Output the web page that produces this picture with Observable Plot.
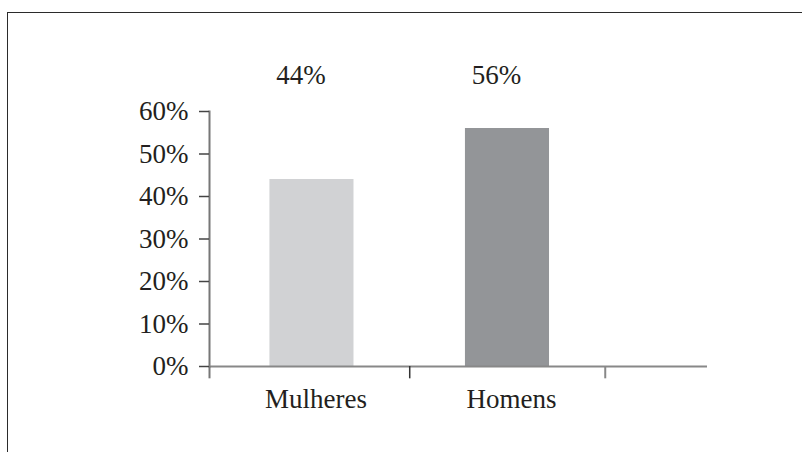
<!DOCTYPE html>
<html><head><meta charset="utf-8">
<script src="https://cdn.jsdelivr.net/npm/d3@7"></script>
<script src="https://cdn.jsdelivr.net/npm/@observablehq/plot@0.6"></script>
<style>
html,body{margin:0;padding:0;background:#fff;overflow:hidden;}
#wrap{position:relative;width:802px;height:452px;overflow:hidden;}
#box{position:absolute;left:7px;top:12px;width:1000px;height:1000px;border-left:1.5px solid #2b2b2b;border-top:1.5px solid #2b2b2b;pointer-events:none;}
</style></head><body>
<div id="wrap"><div id="box"></div></div>
<script>
const categories = ["Mulheres", "Homens"];
const values = [44, 56];
const valueLabels = ["44%", "56%"];
const yTicks = [0, 10, 20, 30, 40, 50, 60];

const data = categories.map((c, i) => ({category: c, index: i, value: values[i], label: valueLabels[i]}));
const xDomain = [-0.524, 2.023];
const halfBar = 0.215;
const tickDrop = 2.9;
const boundaries = [xDomain[0], ...categories.map((c, i) => i + 0.5)];
const ink = "#231f20";

const chart = Plot.plot({
  width: 802,
  height: 452,
  marginLeft: 209,
  marginRight: 95,
  marginTop: 111,
  marginBottom: 86,
  style: {fontFamily: "'Liberation Serif', 'Times New Roman', serif", fontSize: "27px", color: ink, background: "transparent"},
  x: {type: "linear", domain: xDomain, axis: null},
  y: {domain: [0, 60], axis: null},
  color: {domain: categories, range: ["#d1d2d4", "#939598"]},
  marks: [
    Plot.rectY(data, {x1: d => d.index - halfBar, x2: d => d.index + halfBar, y1: 0, y2: "value", fill: "category"}),
    Plot.frame({anchor: "left", stroke: "#777", strokeWidth: 2}),
    Plot.ruleY([0], {stroke: "#888", strokeWidth: 2}),
    Plot.ruleX(boundaries, {x: d => d, y1: 0, y2: -tickDrop, stroke: (d, i) => i === 2 ? "#888" : (i === 0 ? "#777" : "#333"), strokeWidth: (d, i) => i === 1 ? 1.5 : 2}),
    Plot.axisY({ticks: yTicks, tickFormat: d => d + "%", tickSize: 10, tickPadding: 11, fontSize: 27, stroke: "#444", fill: ink, strokeWidth: 1.5, label: null}),
    Plot.text(data, {x: "index", text: "label", frameAnchor: "top", dy: -47, dx: -11, fontSize: 27, fill: ink}),
    Plot.text(data, {x: "index", text: "category", frameAnchor: "bottom", dy: 41, dx: 4, fontSize: 27, fill: ink})
  ]
});
chart.style.position = "absolute";
chart.style.left = "0";
chart.style.top = "0";
document.getElementById("wrap").appendChild(chart);
</script>
</body></html>
